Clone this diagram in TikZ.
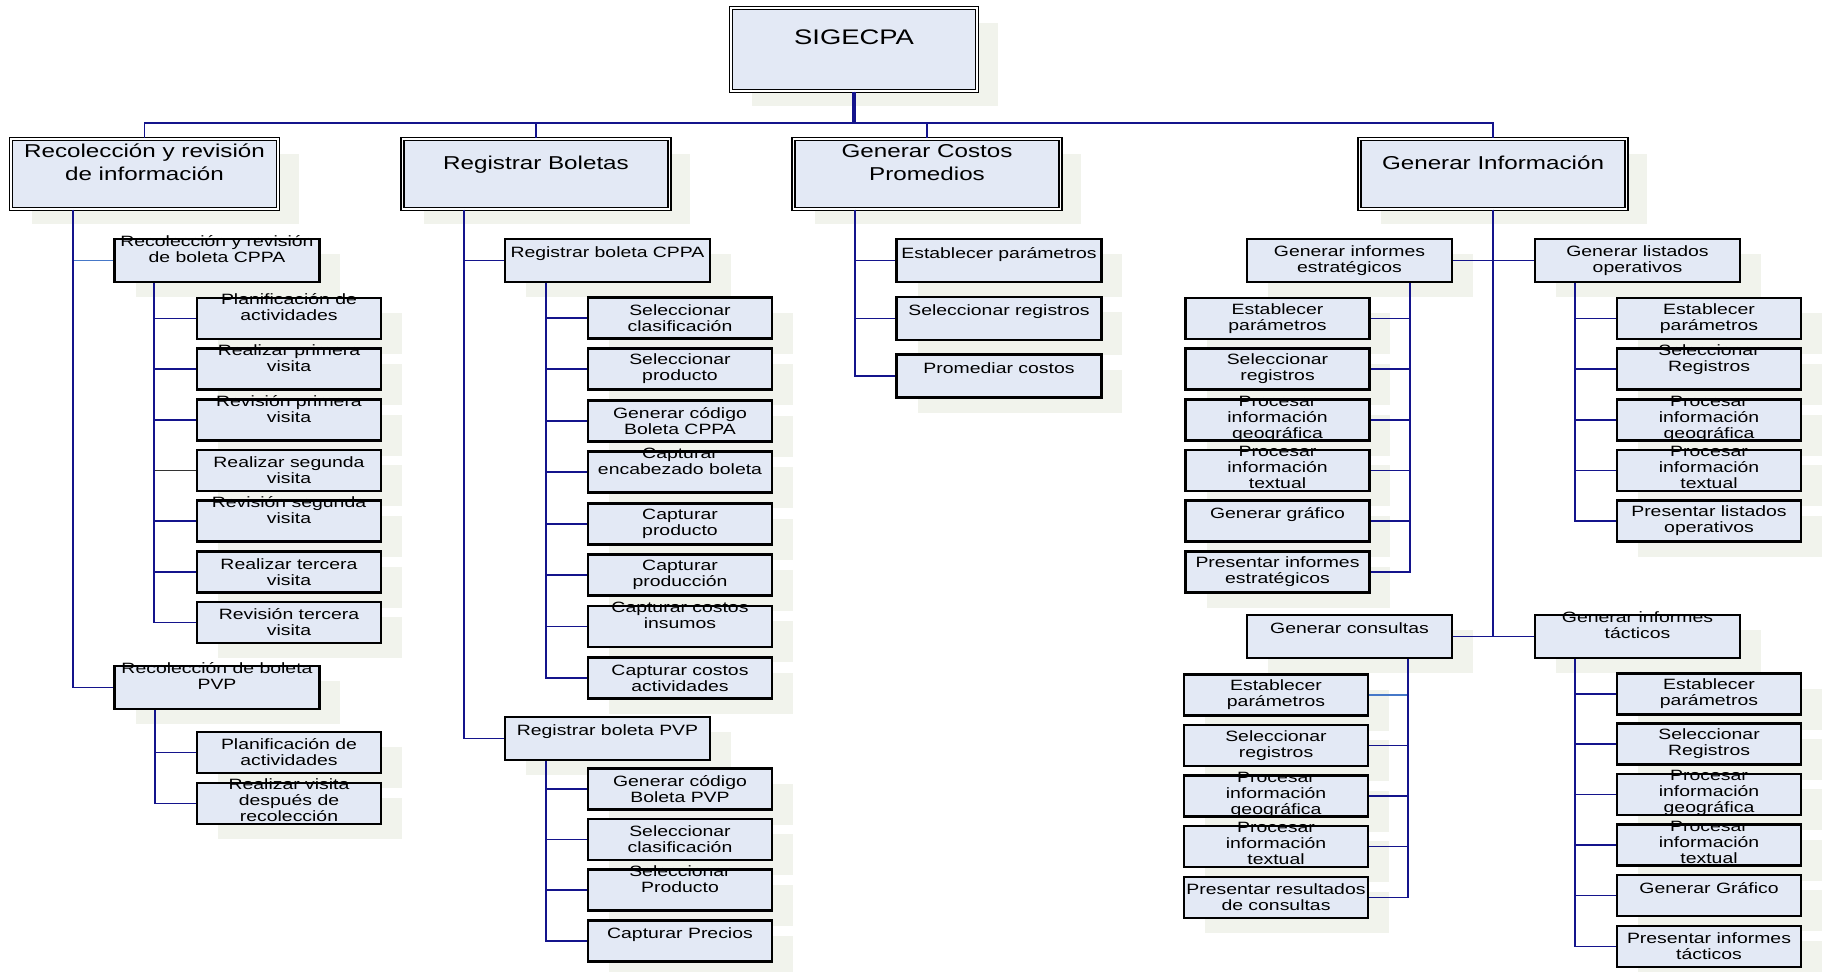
\documentclass[tikz,border=0pt]{standalone}
\usepackage{fontspec}
\setmainfont{Liberation Sans}[FakeStretch=1.3]
\usepackage{tikz}
\usetikzlibrary{positioning,shadows}
\definecolor{boxfill}{RGB}{227,233,245}
\definecolor{shade}{RGB}{241,243,236}
\definecolor{linkblue}{RGB}{20,20,140}
\definecolor{lightlink}{RGB}{70,120,200}
\tikzset {
    top box/.style={
        fill=boxfill,
        draw=black,
        line width=0.9pt,
        double=white,
        double distance=1pt,
        rectangle, % Set the shape as a rectangle
        minimum width=4.92cm,
        minimum height=1.66cm,
        inner sep=1pt,
        align=center,
        font=\fontsize{12}{14}\selectfont,
        drop shadow={shadow xshift=0.42cm, shadow yshift=-0.3cm, fill=shade, opacity=1},
    },
    main box/.style={
        fill=boxfill,
        draw=black,
        line width=0.9pt,
        double=white,
        double distance=1pt,
        rectangle, % Set the shape as a rectangle
        minimum width=5.34cm,
        minimum height=1.4cm,
        inner sep=1pt,
        align=center,
        font=\fontsize{10.6}{13.1}\selectfont,
        drop shadow={shadow xshift=0.42cm, shadow yshift=-0.3cm, fill=shade, opacity=1},
    },
    sub box/.style={
        fill=boxfill,
        draw=black,
        line width=1.5pt,
        rectangle, % Set the shape as a rectangle
        minimum width=4.1cm,
        minimum height=0.86cm,
        inner sep=1pt,
        align=center,
        font=\fontsize{8.5}{9.1}\selectfont,
        drop shadow={shadow xshift=0.42cm, shadow yshift=-0.3cm, fill=shade, opacity=1},
    },
    leaf box/.style={
        fill=boxfill,
        draw=black,
        line width=1.5pt,
        rectangle, % Set the shape as a rectangle
        minimum width=3.68cm,
        minimum height=0.82cm,
        inner sep=1pt,
        align=center,
        font=\fontsize{8.5}{9.1}\selectfont,
        drop shadow={shadow xshift=0.42cm, shadow yshift=-0.3cm, fill=shade, opacity=1},
    },
    three lines/.style={text height=21pt, text depth=-9pt}, % text runs over the box
    link/.style={draw=linkblue, line width=1.1pt},
}

\begin{document}
\begin{tikzpicture}
[x=0.02cm, y=-0.02cm]
\useasboundingbox (0,0) rectangle (1822,971);

% top and first level
\node[top box] (sig) at (854,49.5) {SIGECPA\\~};
\node[main box] (rec) at (144.5,174) {Recolección y revisión\\de información\\~};
\node[main box] (reg) at (536,174) {Registrar Boletas\\~};
\node[main box] (cos) at (927,174) {Generar Costos\\Promedios\\~};
\node[main box] (inf) at (1493,174) {Generar Información\\~};

% recoleccion
\node[sub box, three lines] (recA) at (217,260.5) {Recolección y revisión\\de boleta CPPA\\~};
\node[leaf box, three lines] (recA1) at (289,318.5) {Planificación de\\actividades\\~};
\node[leaf box, three lines] (recA2) at (289,369) {Realizar primera\\visita\\~};
\node[leaf box, three lines] (recA3) at (289,420) {Revisión primera\\visita\\~};
\node[leaf box] (recA4) at (289,470.5) {Realizar segunda\\visita};
\node[leaf box, three lines] (recA5) at (289,521) {Revisión segunda\\visita\\~};
\node[leaf box] (recA6) at (289,572) {Realizar tercera\\visita};
\node[leaf box] (recA7) at (289,622.5) {Revisión tercera\\visita};
\node[sub box, three lines] (recB) at (217,687.5) {Recolección de boleta\\PVP\\~};
\node[leaf box] (recB1) at (289,752.5) {Planificación de\\actividades};
\node[leaf box, three lines] (recB2) at (289,803.5) {Realizar visita\\después de\\recolección};

% registrar boletas
\node[sub box] (regA) at (607.5,260.5) {Registrar boleta CPPA\\~};
\node[leaf box] (regA1) at (680,318) {Seleccionar\\clasificación};
\node[leaf box] (regA2) at (680,369) {Seleccionar\\producto};
\node[leaf box] (regA3) at (680,421) {Generar código\\Boleta CPPA};
\node[leaf box, three lines] (regA4) at (680,472) {Capturar\\encabezado boleta\\~};
\node[leaf box] (regA5) at (680,524) {Capturar\\producto};
\node[leaf box] (regA6) at (680,575) {Capturar\\producción};
\node[leaf box, three lines] (regA7) at (680,626.5) {Capturar costos\\insumos\\~};
\node[leaf box] (regA8) at (680,678) {Capturar costos\\actividades};
\node[sub box] (regB) at (607.5,738.5) {Registrar boleta PVP\\~};
\node[leaf box] (regB1) at (680,789) {Generar código\\Boleta PVP};
\node[leaf box] (regB2) at (680,839.5) {Seleccionar\\clasificación};
\node[leaf box, three lines] (regB3) at (680,890) {Seleccionar\\Producto\\~};
\node[leaf box] (regB4) at (680,941) {Capturar Precios\\~};

% costos promedios
\node[sub box] (cos1) at (999,260.5) {Establecer parámetros\\~};
\node[sub box] (cos2) at (999,318.5) {Seleccionar registros\\~};
\node[sub box] (cos3) at (999,376) {Promediar costos\\~};

% generar informacion
\node[sub box] (infA) at (1349.5,260.5) {Generar informes\\estratégicos};
\node[leaf box] (infA1) at (1277.5,318.5) {Establecer\\parámetros};
\node[leaf box] (infA2) at (1277.5,369) {Seleccionar\\registros};
\node[leaf box, three lines] (infA3) at (1277.5,420) {Procesar\\información\\geográfica};
\node[leaf box, three lines] (infA4) at (1277.5,470.5) {Procesar\\información\\textual};
\node[leaf box] (infA5) at (1277.5,521) {Generar gráfico\\~};
\node[leaf box] (infA6) at (1277.5,572) {Presentar informes\\estratégicos};

\node[sub box] (infB) at (1637.5,260.5) {Generar listados\\operativos};
\node[leaf box] (infB1) at (1709,318.5) {Establecer\\parámetros};
\node[leaf box, three lines] (infB2) at (1709,369) {Seleccionar\\Registros\\~};
\node[leaf box, three lines] (infB3) at (1709,420) {Procesar\\información\\geográfica};
\node[leaf box, three lines] (infB4) at (1709,470.5) {Procesar\\información\\textual};
\node[leaf box] (infB5) at (1709,521) {Presentar listados\\operativos};

\node[sub box] (infC) at (1349.5,636.5) {Generar consultas\\~};
\node[leaf box] (infC1) at (1276,695) {Establecer\\parámetros};
\node[leaf box] (infC2) at (1276,745.5) {Seleccionar\\registros};
\node[leaf box, three lines] (infC3) at (1276,796) {Procesar\\información\\geográfica};
\node[leaf box, three lines] (infC4) at (1276,846.5) {Procesar\\información\\textual};
\node[leaf box] (infC5) at (1276,897.5) {Presentar resultados\\de consultas};

\node[sub box, three lines] (infD) at (1637.5,636.5) {Generar informes\\tácticos\\~};
\node[leaf box] (infD1) at (1709,694) {Establecer\\parámetros};
\node[leaf box] (infD2) at (1709,744) {Seleccionar\\Registros};
\node[leaf box, three lines] (infD3) at (1709,794.5) {Procesar\\información\\geográfica};
\node[leaf box, three lines] (infD4) at (1709,845) {Procesar\\información\\textual};
\node[leaf box] (infD5) at (1709,895.5) {Generar Gráfico\\~};
\node[leaf box] (infD6) at (1709,946.5) {Presentar informes\\tácticos};

% top bus
\draw[link, line width=1.8pt] (sig.south) -- ++(0,31);
\draw[link] (sig.south) -- ++(0,31) -| (rec.north);
\draw[link] (sig.south) -- ++(0,31) -| (reg.north);
\draw[link] (sig.south) -- ++(0,31) -| (cos.north);
\draw[link] (sig.south) -- ++(0,31) -| (inf.north);

% recoleccion links
\draw[link, draw=lightlink] ([xshift=1.26cm]rec.south west) |- (recA.west);
\draw[link] ([xshift=1.26cm]rec.south west) |- (recB.west);
\draw[link] ([xshift=0.82cm]recA.south west) |- (recA1.west);
\draw[link] ([xshift=0.82cm]recA.south west) |- (recA2.west);
\draw[link] ([xshift=0.82cm]recA.south west) |- (recA3.west);
\draw[link, draw=black!80] ([xshift=0.82cm]recA.south west) |- (recA4.west);
\draw[link] ([xshift=0.82cm]recA.south west) |- (recA5.west);
\draw[link] ([xshift=0.82cm]recA.south west) |- (recA6.west);
\draw[link] ([xshift=0.82cm]recA.south west) |- (recA7.west);
\draw[link] ([xshift=0.84cm]recB.south west) |- (recB1.west);
\draw[link] ([xshift=0.84cm]recB.south west) |- (recB2.west);

% registrar links
\draw[link] ([xshift=1.24cm]reg.south west) |- (regA.west);
\draw[link] ([xshift=1.24cm]reg.south west) |- (regB.west);
\draw[link] ([xshift=0.84cm]regA.south west) |- (regA1.west);
\draw[link] ([xshift=0.84cm]regA.south west) |- (regA2.west);
\draw[link] ([xshift=0.84cm]regA.south west) |- (regA3.west);
\draw[link] ([xshift=0.84cm]regA.south west) |- (regA4.west);
\draw[link] ([xshift=0.84cm]regA.south west) |- (regA5.west);
\draw[link] ([xshift=0.84cm]regA.south west) |- (regA6.west);
\draw[link] ([xshift=0.84cm]regA.south west) |- (regA7.west);
\draw[link] ([xshift=0.84cm]regA.south west) |- (regA8.west);
\draw[link] ([xshift=0.84cm]regB.south west) |- (regB1.west);
\draw[link] ([xshift=0.84cm]regB.south west) |- (regB2.west);
\draw[link] ([xshift=0.84cm]regB.south west) |- (regB3.west);
\draw[link] ([xshift=0.84cm]regB.south west) |- (regB4.west);

% costos links
\draw[link] ([xshift=1.24cm]cos.south west) |- (cos1.west);
\draw[link] ([xshift=1.24cm]cos.south west) |- (cos2.west);
\draw[link] ([xshift=1.24cm]cos.south west) |- (cos3.west);

% informacion links
\draw[link] (inf.south) |- (infA.east);
\draw[link] (inf.south) |- (infB.west);
\draw[link] (inf.south) |- (infC.east);
\draw[link] (inf.south) |- (infD.west);
\draw[link] ([xshift=-0.86cm]infA.south east) |- (infA1.east);
\draw[link] ([xshift=-0.86cm]infA.south east) |- (infA2.east);
\draw[link] ([xshift=-0.86cm]infA.south east) |- (infA3.east);
\draw[link] ([xshift=-0.86cm]infA.south east) |- (infA4.east);
\draw[link] ([xshift=-0.86cm]infA.south east) |- (infA5.east);
\draw[link] ([xshift=-0.86cm]infA.south east) |- (infA6.east);
\draw[link] ([xshift=0.82cm]infB.south west) |- (infB1.west);
\draw[link] ([xshift=0.82cm]infB.south west) |- (infB2.west);
\draw[link] ([xshift=0.82cm]infB.south west) |- (infB3.west);
\draw[link] ([xshift=0.82cm]infB.south west) |- (infB4.west);
\draw[link] ([xshift=0.82cm]infB.south west) |- (infB5.west);
\draw[link, draw=lightlink] ([xshift=-0.9cm]infC.south east) |- (infC1.east);
\draw[link] ([xshift=-0.9cm]infC.south east) |- (infC2.east);
\draw[link] ([xshift=-0.9cm]infC.south east) |- (infC3.east);
\draw[link] ([xshift=-0.9cm]infC.south east) |- (infC4.east);
\draw[link] ([xshift=-0.9cm]infC.south east) |- (infC5.east);
\draw[link] ([xshift=0.82cm]infD.south west) |- (infD1.west);
\draw[link] ([xshift=0.82cm]infD.south west) |- (infD2.west);
\draw[link] ([xshift=0.82cm]infD.south west) |- (infD3.west);
\draw[link] ([xshift=0.82cm]infD.south west) |- (infD4.west);
\draw[link] ([xshift=0.82cm]infD.south west) |- (infD5.west);
\draw[link] ([xshift=0.82cm]infD.south west) |- (infD6.west);
\end{tikzpicture}
\end{document}
